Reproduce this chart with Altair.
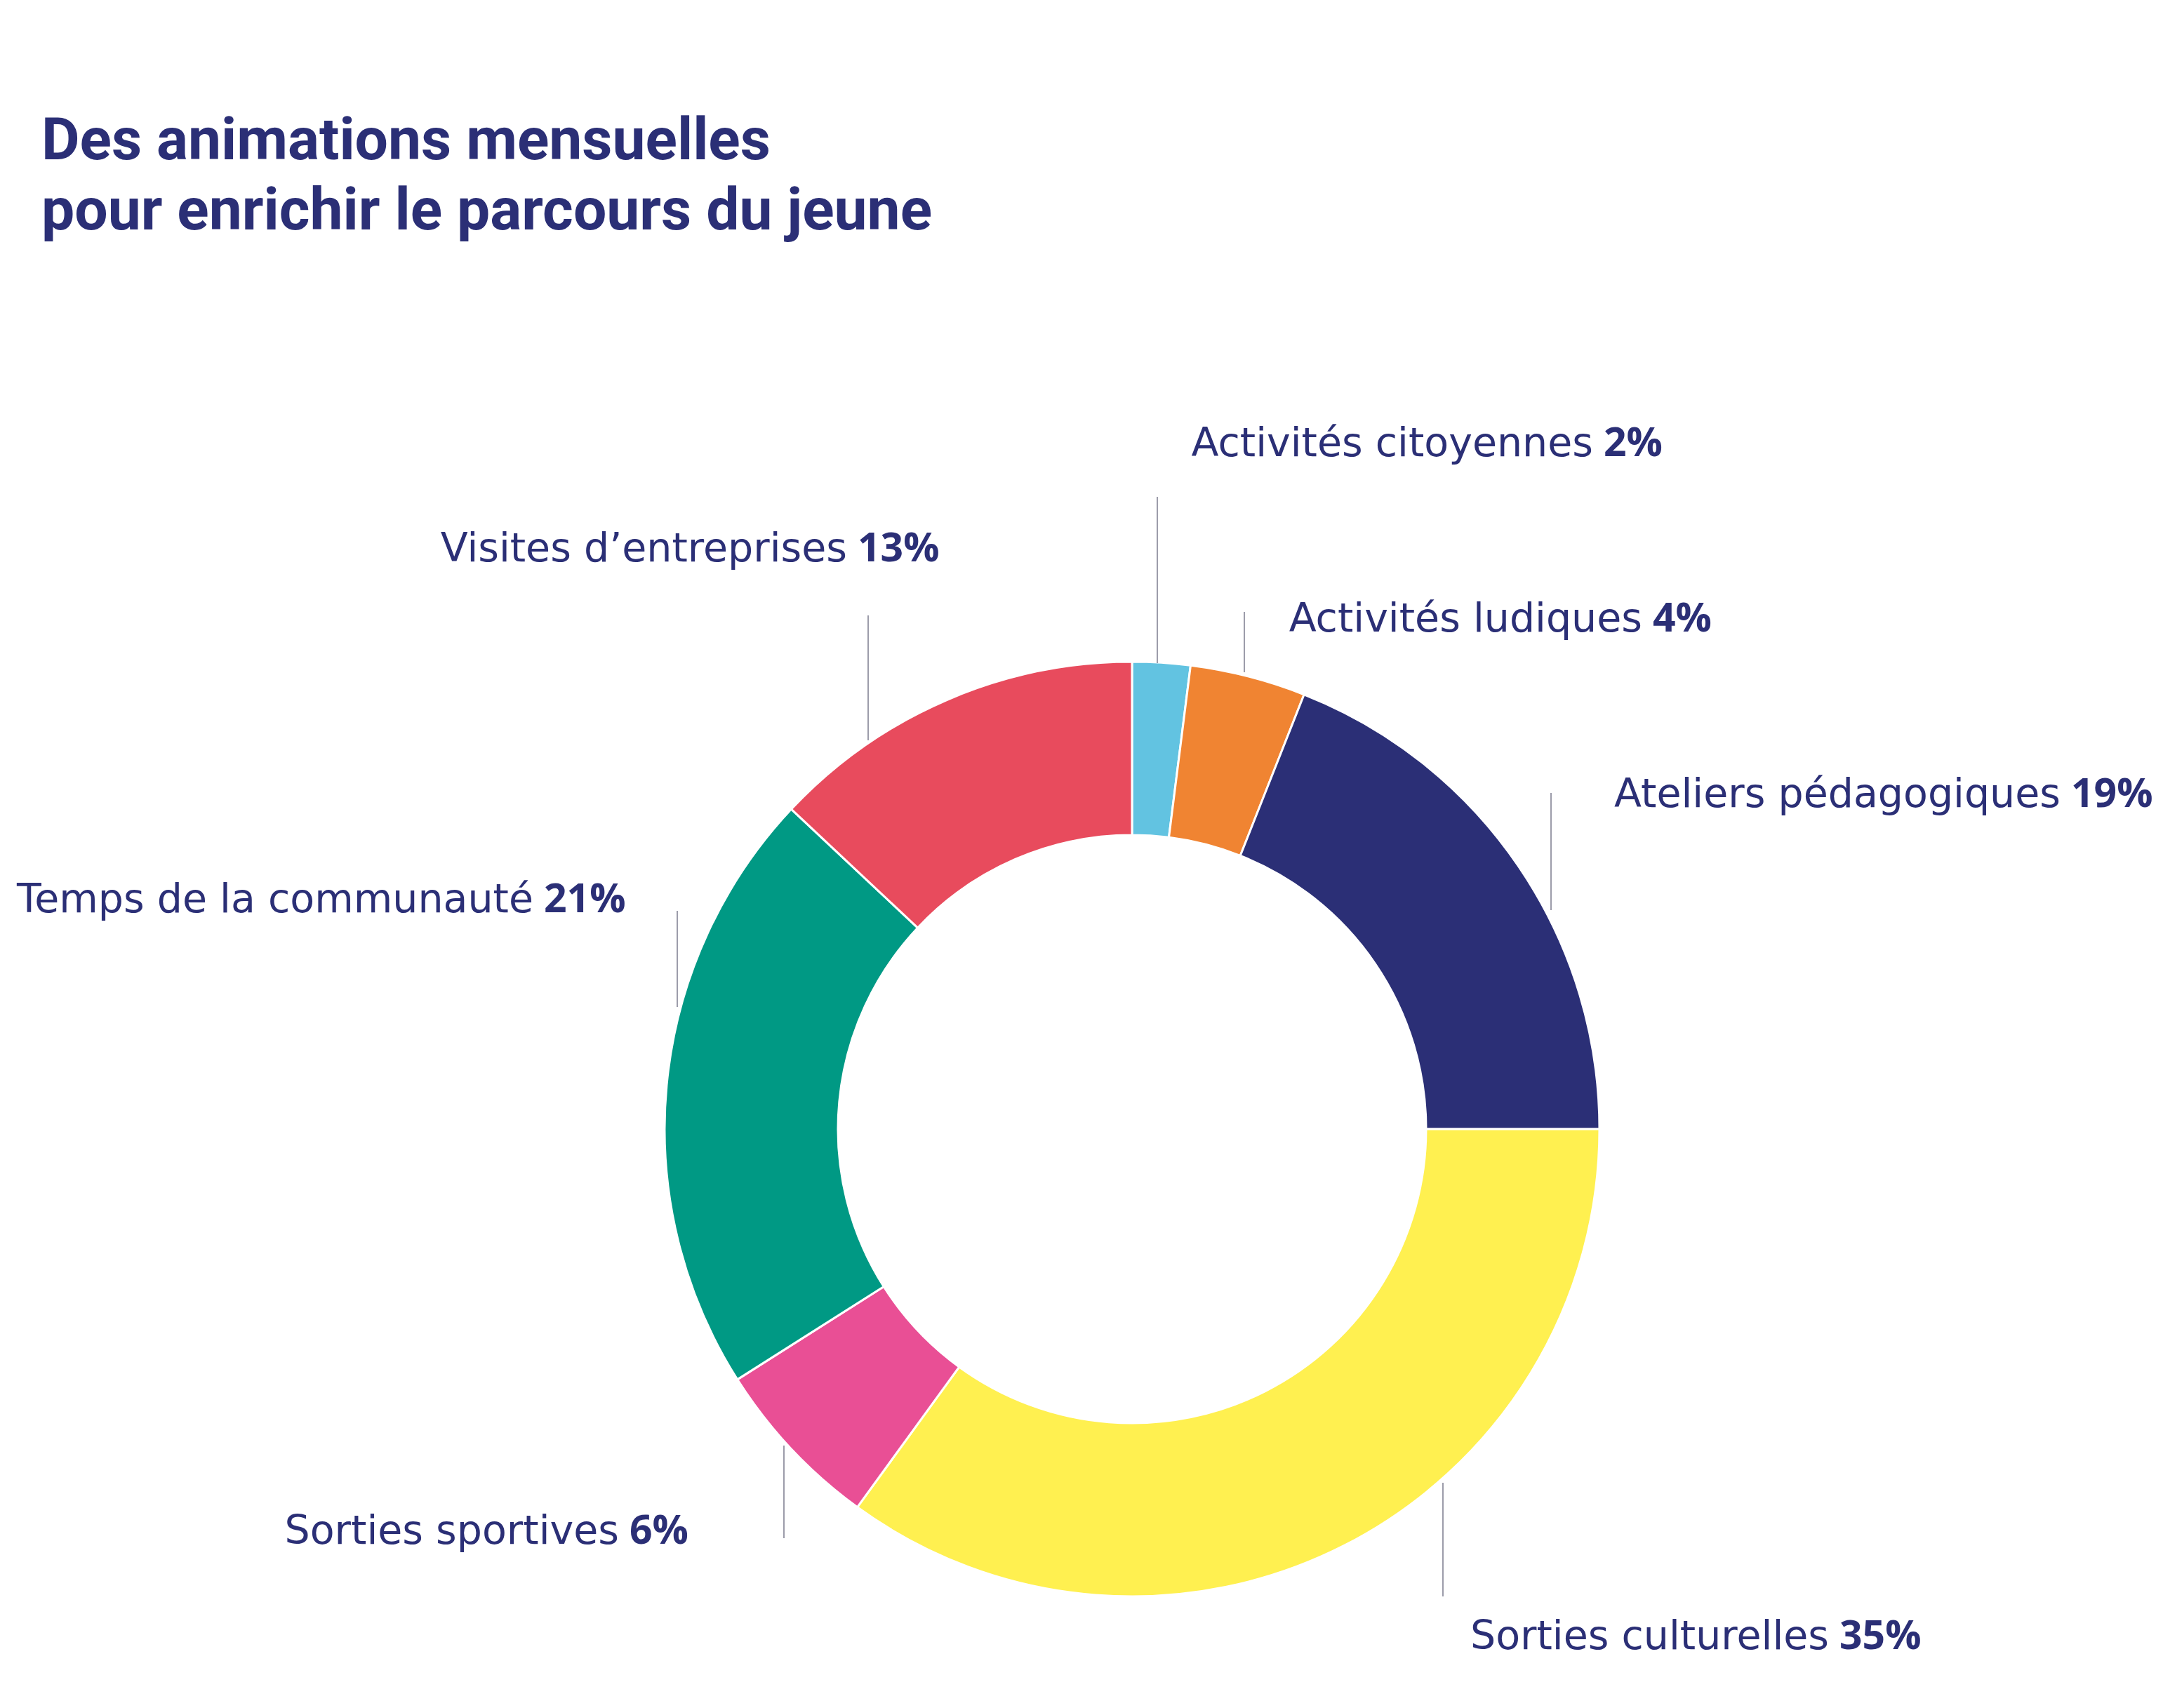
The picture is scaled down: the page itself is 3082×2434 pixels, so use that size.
import altair as alt
import pandas as pd

# ---- data ----
categories = ["Activités citoyennes", "Activités ludiques", "Ateliers pédagogiques",
              "Sorties culturelles", "Sorties sportives", "Temps de la communauté",
              "Visites d’entreprises"]
values = [2, 4, 19, 35, 6, 21, 13]
pct_labels = ["2%", "4%", "19%", "35%", "6%", "21%", "13%"]
colors = ["#62C3E1", "#F08432", "#2B2F76", "#FFF050", "#E94F95", "#009984", "#E84B5D"]
title_lines = ["Des animations mensuelles", "pour enrichir le parcours du jeune"]

# ---- layout (page pixel coords) ----
W, H = 3066, 2418
M = 8
center = (1613, 1609)
r_outer, r_inner = 666, 419
# split point between name and percentage, baseline
lab_x = [2273, 2343, 2939, 2609, 885, 763, 1210]
lab_y = [650, 900, 1150, 2350, 2200, 1300, 800]
line_x = [1649, 1773, 2210, 2056, 1117, 965, 1237]
line_y1 = [708, 872, 1130, 2113, 2060, 1298, 877]
line_y2 = [945, 958, 1297, 2275, 2192, 1435, 1055]

NAVY = "#2B2F76"
NAME_FONT = "DejaVu Sans"
PCT_FONT = "Open Sans"
TITLE_FONT = "Roboto"

df = pd.DataFrame({
    "cat": categories,
    "val": values,
    "pct": pct_labels,
    "order": list(range(len(categories))),
    "lx": [x - M - 3 for x in lab_x],
    "lx2": [x - M + 12 for x in lab_x],
    "ly": [y - M for y in lab_y],
    "rx": [x - M for x in line_x],
    "ry1": [y - M for y in line_y1],
    "ry2": [y - M for y in line_y2],
})

xs = alt.Scale(domain=[0, W], range=[0, W], nice=False, zero=False)
ys = alt.Scale(domain=[0, H], range=[0, H], nice=False, zero=False)

base = alt.Chart(df)

arc = base.mark_arc(radius=r_outer, radius2=r_inner, stroke="white", strokeWidth=3).encode(
    theta=alt.Theta("val:Q", stack=True),
    order=alt.Order("order:Q"),
    color=alt.Color("cat:N", scale=alt.Scale(domain=categories, range=colors), legend=None),
    x=alt.value(center[0] - M),
    y=alt.value(center[1] - M),
)

rules = base.mark_rule(color="#9C9CAA", strokeWidth=2).encode(
    x=alt.X("rx:Q", scale=xs, axis=None),
    y=alt.Y("ry1:Q", scale=ys, axis=None),
    y2="ry2:Q",
)

names = base.mark_text(align="right", baseline="alphabetic", font=NAME_FONT,
                       fontSize=57, fontWeight="normal", color=NAVY).encode(
    x=alt.X("lx:Q", scale=xs, axis=None),
    y=alt.Y("ly:Q", scale=ys, axis=None),
    text="cat:N",
)

pcts = base.mark_text(align="left", baseline="alphabetic", font=PCT_FONT,
                      fontSize=57, fontWeight="bold", color=NAVY).encode(
    x=alt.X("lx2:Q", scale=xs, axis=None),
    y=alt.Y("ly:Q", scale=ys, axis=None),
    text="pct:N",
)

title_df = pd.DataFrame({"t": title_lines, "tx": [59 - M, 59 - M], "ty": [227 - M, 327 - M]})
title = alt.Chart(title_df).mark_text(align="left", baseline="alphabetic", font=TITLE_FONT,
                                      fontSize=84, fontWeight="bold", color=NAVY).encode(
    x=alt.X("tx:Q", scale=xs, axis=None),
    y=alt.Y("ty:Q", scale=ys, axis=None),
    text="t:N",
)

chart = alt.layer(arc, rules, names, pcts, title).properties(
    width=W, height=H, autosize=alt.AutoSizeParams(type="none"), padding=0,
    background="white",
).configure_view(stroke=None)

chart.save("out.html", embed_options={"renderer": "svg", "actions": False})
